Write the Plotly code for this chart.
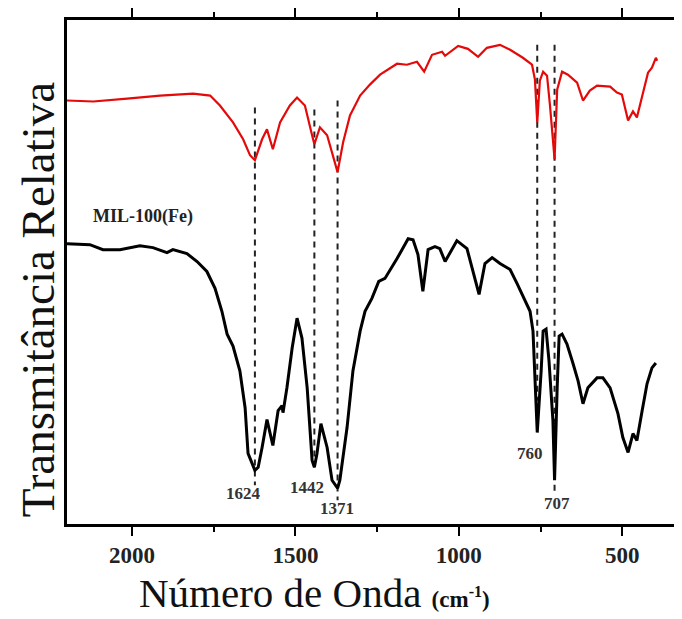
import plotly.graph_objects as go

# Upper (red) spectrum: wavenumber (cm-1) and relative transmittance (a.u.)
red_wn = [2199, 2119, 2015, 1914, 1813, 1761, 1731, 1691, 1660, 1639, 1624, 1602, 1587, 1569,
          1547, 1517, 1495, 1471, 1449, 1442, 1425, 1403, 1371, 1354, 1333, 1302, 1272, 1241,
          1189, 1159, 1128, 1106, 1082, 1051, 1042, 1021, 1002, 972, 941, 914, 874, 843, 804,
          776, 767, 760, 752, 742, 730, 721, 707, 699, 684, 666, 638, 620, 599, 577, 537, 516,
          501, 482, 467, 455, 439, 421, 409, 397, 393]
red_t = [426, 425, 428, 431, 433, 431, 421, 404, 387, 371, 366, 387, 397, 377,
         404, 421, 429, 421, 391, 382, 399, 391, 354, 384, 411, 431, 442, 452,
         463, 462, 465, 455, 472, 475, 471, 476, 481, 478, 470, 479, 482, 477, 469,
         462, 447, 404, 446, 455, 451, 421, 367, 437, 455, 452, 444, 426, 436, 441, 440, 434,
         432, 406, 415, 409, 431, 454, 459, 469, 466]

# Lower (black) spectrum: MIL-100(Fe)
blk_wn = [2199, 2129, 2089, 2037, 1976, 1936, 1893, 1875, 1832, 1801, 1771, 1746, 1725, 1709,
          1691, 1670, 1654, 1645, 1624, 1614, 1602, 1587, 1569, 1553, 1541, 1538, 1526, 1510,
          1495, 1480, 1464, 1449, 1442, 1434, 1422, 1403, 1388, 1371, 1364, 1342, 1324, 1302,
          1287, 1266, 1245, 1226, 1189, 1155, 1140, 1125, 1110, 1094, 1073, 1058, 1042, 1021,
          1006, 975, 957, 938, 920, 898, 874, 843, 822, 804, 782, 773, 767, 763, 760, 748, 742,
          733, 724, 712, 707, 699, 693, 684, 669, 651, 635, 620, 605, 577, 559, 537, 513, 498,
          482, 467, 455, 439, 424, 409, 397]
blk_t = [282, 281, 276, 276, 280, 278, 273, 276, 272, 264, 254, 237, 214, 191,
         179, 154, 117, 71, 54, 57, 77, 105, 79, 114, 119, 112, 137, 177,
         207, 187, 137, 64, 57, 71, 101, 77, 44, 36, 44, 97, 154, 194,
         214, 227, 244, 247, 267, 287, 286, 271, 234, 276, 279, 277, 264, 277,
         285, 277, 254, 231, 262, 268, 262, 256, 242, 229, 214, 194, 154, 117, 92, 154, 194,
         196, 164, 104, 44, 137, 189, 191, 181, 162, 144, 121, 137, 147, 147, 137, 111, 87,
         72, 91, 84, 114, 141, 157, 162]

# Marked peaks (dashed guide lines)
peak_wn = [1624, 1442, 1371, 760, 707]
peak_top = [419, 417, 426, 482, 482]
peak_bot = [39, 57, 24, 124, 31]
peak_labels = ["1624", "1442", "1371", "760", "707"]
label_wn = [1660, 1465, 1373, 782, 700]
label_t = [31, 37, 16, 71, 21]

x_ticks = [2000, 1500, 1000, 500]

# page has an 8px body margin; figure is sized/positioned to compensate
W, H = 674, 611
L, T, B = 59, 9, 95
PW, PH = W - L, H - T - B

fig = go.Figure()

for wn, y0, y1 in zip(peak_wn, peak_top, peak_bot):
    fig.add_trace(go.Scatter(x=[wn, wn], y=[y0, y1], mode="lines",
                             line=dict(color="#222222", width=2, dash="6px,5px"),
                             showlegend=False, hoverinfo="skip"))

fig.add_trace(go.Scatter(x=red_wn, y=red_t, mode="lines",
                         line=dict(color="rgb(228,10,10)", width=2.2), showlegend=False))
fig.add_trace(go.Scatter(x=blk_wn, y=blk_t, mode="lines",
                         line=dict(color="black", width=3), showlegend=False))

for txt, xv, yv in zip(peak_labels, label_wn, label_t):
    fig.add_annotation(x=xv, y=yv, text=txt, showarrow=False,
                       font=dict(family="Liberation Serif", size=17, color="#333333", weight="bold"))

fig.add_annotation(x=1965, y=309, text="MIL-100(Fe)", showarrow=False,
                   font=dict(family="Liberation Serif", size=18, color="#222222", weight="bold"))

fig.add_annotation(xref="paper", yref="paper", x=(129 - L) / PW, y=-(585 - (H - B)) / PH,
                   xanchor="left", yanchor="middle", showarrow=False,
                   text="Número de Onda <b><span style='font-size:23px'>(cm<sup>-1</sup>)</span></b>",
                   font=dict(family="Liberation Serif", size=41, color="#111111"))

fig.add_annotation(xref="paper", yref="paper", x=-(L - 30) / PW, y=(H - B - 290) / PH,
                   xanchor="center", yanchor="middle", showarrow=False, textangle=-90,
                   text="Transmitância Relativa",
                   font=dict(family="Liberation Serif", size=47, color="#111111"))

fig.update_layout(
    width=W, height=H,
    margin=dict(l=L, r=0, t=T, b=B),
    paper_bgcolor="white", plot_bgcolor="white",
    xaxis=dict(range=[2199, 317], tickvals=x_ticks, ticks="outside", ticklen=9, tickwidth=2,
               tickcolor="black", showline=True, linecolor="black", linewidth=2.5, mirror="ticks",
               showgrid=False, zeroline=False,
               minor=dict(tickvals=[1750, 1250, 750], ticks="outside", ticklen=5, tickwidth=2,
                          tickcolor="black"),
               tickfont=dict(family="Liberation Serif", size=23, color="#222222", weight="bold")),
    yaxis=dict(range=[0, 507], showticklabels=False, ticks="", showline=True, linecolor="black",
               linewidth=2.5, mirror=False, showgrid=False, zeroline=False),
)

fig.write_html("out.html")
